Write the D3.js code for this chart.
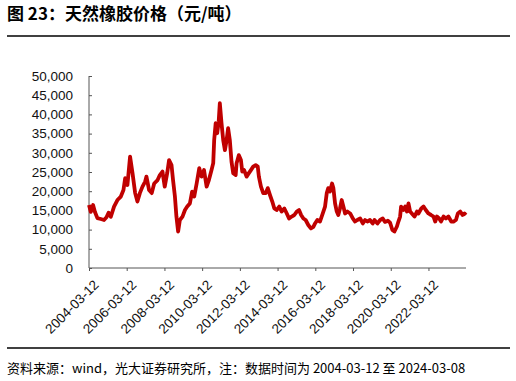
<!DOCTYPE html>
<html>
<head>
<meta charset="utf-8">
<script src="https://cdn.jsdelivr.net/npm/d3@7/dist/d3.min.js"></script>
<style>
  html, body { margin: 0; padding: 0; background: #fff; }
  svg { display: block; }
</style>
</head>
<body>
<script>
// ---- data ----
const titleText = "图 23：天然橡胶价格（元/吨）";
const sourceText = "资料来源：wind，光大证券研究所，注：数据时间为 2004-03-12 至 2024-03-08";
const startDate = "2004-03-12";
const endDate = "2024-03-08";
const xTickLabels = ["2004-03-12","2006-03-12","2008-03-12","2010-03-12","2012-03-12",
                     "2014-03-12","2016-03-12","2018-03-12","2020-03-12","2022-03-12"];
const yTicks = [0,5000,10000,15000,20000,25000,30000,35000,40000,45000,50000];

// dates as decimal years
const years = [
 2004.20,2004.29,2004.41,2004.51,2004.64,2004.82,2004.99,2005.12,2005.23,2005.35,
 2005.52,2005.70,2005.88,2006.02,2006.11,2006.23,2006.37,2006.50,2006.64,2006.76,
 2006.89,2007.03,2007.17,2007.24,2007.38,2007.52,2007.65,2007.83,2007.95,2008.09,
 2008.21,2008.34,2008.44,2008.57,2008.65,2008.75,2008.83,2008.92,2009.01,2009.15,
 2009.28,2009.40,2009.54,2009.66,2009.77,2009.90,2010.04,2010.16,2010.29,2010.43,
 2010.55,2010.69,2010.78,2010.83,2010.91,2010.99,2011.07,2011.13,2011.22,2011.31,
 2011.40,2011.49,2011.57,2011.66,2011.75,2011.84,2011.97,2012.02,2012.14,2012.25,
 2012.32,2012.42,2012.55,2012.67,2012.78,2012.90,2013.03,2013.14,2013.20,2013.31,
 2013.43,2013.56,2013.67,2013.79,2013.91,2014.02,2014.14,2014.28,2014.41,2014.55,
 2014.68,2014.80,2014.94,2015.08,2015.21,2015.33,2015.44,2015.56,2015.68,2015.82,
 2015.96,2016.09,2016.18,2016.30,2016.44,2016.59,2016.71,2016.80,2016.88,2016.97,
 2017.08,2017.15,2017.24,2017.33,2017.41,2017.50,2017.59,2017.68,2017.77,2017.89,
 2018.04,2018.18,2018.30,2018.42,2018.57,2018.71,2018.83,2018.95,2019.09,2019.24,
 2019.33,2019.49,2019.63,2019.77,2019.89,2020.04,2020.16,2020.28,2020.39,2020.52,
 2020.60,2020.69,2020.74,2020.87,2020.96,2021.05,2021.13,2021.22,2021.31,2021.45,
 2021.58,2021.66,2021.81,2021.93,2022.05,2022.19,2022.33,2022.46,2022.55,2022.64,
 2022.76,2022.86,2022.99,2023.12,2023.25,2023.40,2023.52,2023.65,2023.75,2023.88,
 2024.00,2024.10,2024.18
];
const prices = [
 16400,14600,16400,14600,13000,12750,12500,13200,14400,13350,
 16000,17700,18600,20300,23400,21600,29000,24700,19500,17300,
 19500,21200,22500,23800,20300,19500,22000,22900,24200,25100,
 21200,24700,28100,26800,22900,18600,13400,9500,12500,13400,
 15100,16000,16800,19900,18600,22000,26000,23800,25500,21200,
 22900,25500,27300,33300,37700,35100,38100,42900,37700,33300,
 30700,33300,36400,33300,27700,24700,24200,27300,29400,28100,
 25100,25500,23800,24700,25500,26400,26800,26400,23800,21200,
 19500,19500,20800,19000,17300,15500,15100,16000,14700,15500,
 14200,12900,13400,13800,14700,15100,13800,12900,12500,11200,
 10300,10700,11600,12500,12100,14200,16000,19500,20800,19900,
 22000,20800,16800,14700,13800,15500,17700,16000,14200,14700,
 14200,12900,12100,12500,12900,11600,12500,12100,12500,11600,
 12500,11600,12500,12900,12000,12300,11800,9900,9500,10800,
 12100,13400,16000,15100,16000,14700,16800,14700,14200,13400,
 14700,14200,15500,16000,15100,14200,13800,13400,12100,13400,
 12900,12100,13400,12900,13400,12100,12100,12500,14200,14700,
 13800,14200,13800
];

// ---- drawing ----
const W = 516, H = 381;
const parse = d3.utcParse("%Y-%m-%d");
function yearToDate(y) {
  const yr = Math.floor(y);
  const start = Date.UTC(yr, 0, 1);
  return new Date(start + (y - yr) * 365.25 * 864e5);
}
const data = years.map((y, i) => ({ date: yearToDate(y), value: prices[i] }));
data[0].date = parse(startDate);
data[data.length - 1].date = parse(endDate);

const svg = d3.select("body").append("svg").attr("width", W).attr("height", H);

svg.append("text")
  .attr("x", 7).attr("y", 20)
  .attr("font-family", "'Noto Sans CJK SC', 'Noto Sans', sans-serif")
  .attr("font-size", 17).attr("font-weight", "bold").attr("fill", "#000")
  .text(titleText);

svg.append("line").attr("x1", 7).attr("x2", 510).attr("y1", 36).attr("y2", 36)
  .attr("stroke", "#000").attr("stroke-width", 1.3);
svg.append("line").attr("x1", 7).attr("x2", 510).attr("y1", 348).attr("y2", 348)
  .attr("stroke", "#000").attr("stroke-width", 1.3);

svg.append("text")
  .attr("x", 7).attr("y", 373)
  .attr("font-family", "'Noto Sans CJK SC', 'Noto Sans', sans-serif")
  .attr("font-size", 13).attr("fill", "#000")
  .text(sourceText);

const x = d3.scaleUtc().domain([parse(startDate), parse(endDate)]).range([89, 466]);
const y = d3.scaleLinear().domain([0, 50000]).range([268, 76]);

const axisColor = "#555";
const yAxis = svg.append("g").attr("transform", "translate(89,0)")
  .call(d3.axisRight(y).tickValues(yTicks).tickSize(3).tickFormat(""));
yAxis.select(".domain").attr("stroke", axisColor).attr("d", "M0,76V268");
yAxis.selectAll(".tick line").attr("stroke", axisColor);

svg.append("g").selectAll("text").data(yTicks).join("text")
  .attr("x", 73).attr("y", d => y(d)).attr("dy", "0.35em")
  .attr("text-anchor", "end")
  .attr("font-family", "'Liberation Sans', Arial, sans-serif")
  .attr("font-size", 13.5).attr("fill", "#111")
  .text(d => d3.format(",")(d));

const xAxis = svg.append("g").attr("transform", "translate(0,268)")
  .call(d3.axisBottom(x).tickValues(xTickLabels.map(parse)).tickSize(3).tickFormat(""));
xAxis.select(".domain").attr("stroke", axisColor).attr("d", "M89,0H466");
xAxis.selectAll(".tick line").attr("stroke", axisColor);

svg.append("g").selectAll("text").data(xTickLabels).join("text")
  .attr("transform", d => `translate(${x(parse(d)) + 4},${279}) rotate(-45)`)
  .attr("text-anchor", "end")
  .attr("dy", "0.7em")
  .attr("font-family", "'Liberation Sans', Arial, sans-serif")
  .attr("font-size", 13.5).attr("fill", "#111")
  .text(d => d);

const line = d3.line().x(d => x(d.date)).y(d => y(d.value)).curve(d3.curveLinear);
svg.append("path").datum(data)
  .attr("d", line)
  .attr("fill", "none").attr("stroke", "#C00000")
  .attr("stroke-width", 3.8).attr("stroke-linejoin", "round");
</script>
</body>
</html>
